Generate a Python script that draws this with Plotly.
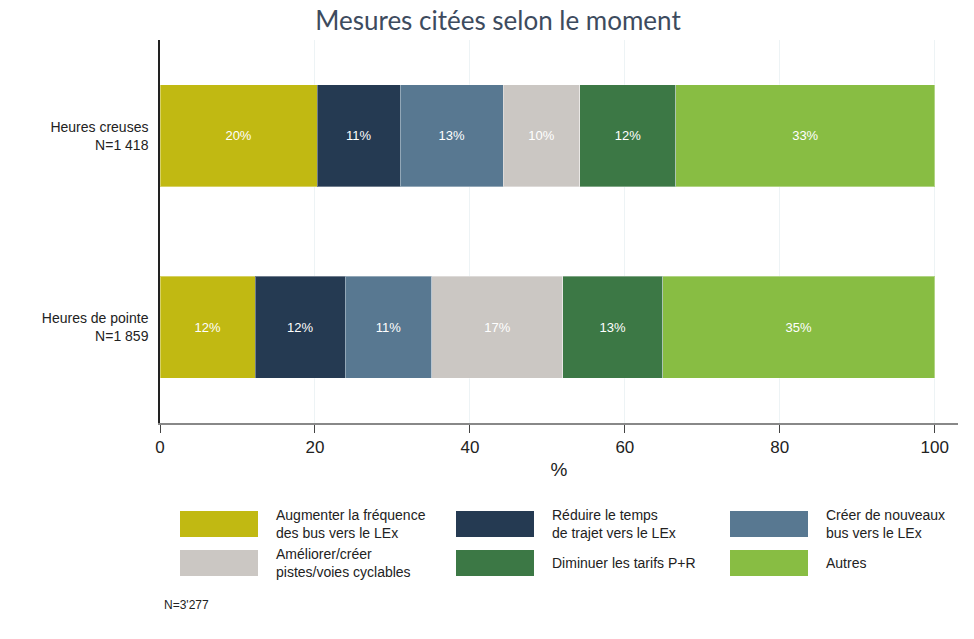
import plotly.graph_objects as go

categories = ["Heures creuses<br>N=1 418", "Heures de pointe<br>N=1 859"]
series_names = [
    "Augmenter la fréquence<br>des bus vers le LEx",
    "Réduire le temps<br>de trajet vers le LEx",
    "Créer de nouveaux<br>bus vers le LEx",
    "Améliorer/créer<br>pistes/voies cyclables",
    "Diminuer les tarifs P+R",
    "Autres",
]
creuses_values = [20.3, 10.7, 13.3, 9.9, 12.4, 33.4]
pointe_values = [12.3, 11.6, 11.2, 16.9, 12.9, 35.1]
creuses_labels = [20, 11, 13, 10, 12, 33]
pointe_labels = [12, 12, 11, 17, 13, 35]
colors = ["#C1B912", "#253A52", "#587891", "#CBC7C3", "#3C7845", "#88BD43"]
x_ticks = [0, 20, 40, 60, 80, 100]
note = "N=3'277"

W, H = 974, 639
# plot area in page pixels
L, R, T, B = 160, 958, 40, 423


def px(x):
    return (x - L) / (R - L)


def py(y):
    return (B - y) / (B - T)


fig = go.Figure()
for i, name in enumerate(series_names):
    vals = [creuses_values[i], pointe_values[i]]
    labs = [f"{creuses_labels[i]}%", f"{pointe_labels[i]}%"]
    fig.add_trace(go.Bar(
        y=categories, x=vals, orientation="h", name=name,
        marker=dict(color=colors[i], line=dict(color="rgba(255,255,255,0.35)", width=1)),
        text=labs, textposition="inside", insidetextanchor="middle",
        textfont=dict(color="white", size=13, family="Liberation Sans, Arial"),
        showlegend=False, hoverinfo="x+name",
    ))

shapes = []
annotations = []
# manual legend: 3 columns x 2 rows
col_x = [180, 456, 730]
row_y = [511, 550]
sw_w, sw_h = 78, 26
for i, name in enumerate(series_names):
    r, c = divmod(i, 3)
    x0 = col_x[c]
    y0 = row_y[r]
    shapes.append(dict(type="rect", xref="paper", yref="paper",
                       x0=px(x0), x1=px(x0 + sw_w), y0=py(y0 + sw_h), y1=py(y0),
                       fillcolor=colors[i], line=dict(width=0), layer="above"))
    annotations.append(dict(xref="paper", yref="paper", x=px(x0 + sw_w + 16), y=py(y0 + sw_h / 2),
                            text=name, showarrow=False, xanchor="left", yanchor="middle",
                            align="left", font=dict(size=14, color="#222", family="Liberation Sans, Arial")))

annotations.append(dict(xref="paper", yref="paper", x=px(162), y=py(605), text=note,
                        showarrow=False, xanchor="left", yanchor="middle",
                        font=dict(size=12, color="#222", family="Liberation Sans, Arial")))

fig.update_layout(
    width=W, height=H,
    barmode="stack", bargap=0.466,
    paper_bgcolor="white", plot_bgcolor="white",
    margin=dict(l=L, r=W - R, t=T, b=H - B, autoexpand=False),
    title=dict(text="Mesures citées selon le moment", x=498 / W, xanchor="center",
               y=1 - 21 / H, yanchor="middle",
               font=dict(family="Lato", size=26, color="#3D4B5E")),
    xaxis=dict(range=[0, 103], tickvals=x_ticks, ticks="outside", ticklen=8, tickwidth=1,
               tickcolor="#444", showline=True, linecolor="#888", linewidth=2,
               showgrid=True, gridcolor="#EDF3F5", gridwidth=1, zeroline=False,
               tickfont=dict(size=17, color="#222", family="Liberation Sans, Arial"),
               title=dict(text="%", font=dict(size=19, color="#222", family="Liberation Sans, Arial"), standoff=6)),
    yaxis=dict(autorange="reversed", showline=True, linecolor="#222", linewidth=1.5,
               ticks="", showgrid=False, ticklabelstandoff=7,
               tickfont=dict(size=14, color="#222", family="Liberation Sans, Arial")),
    shapes=shapes, annotations=annotations,
)

fig.write_html("out.html", config={"displayModeBar": False},
               post_script="document.body.style.margin='0';")
